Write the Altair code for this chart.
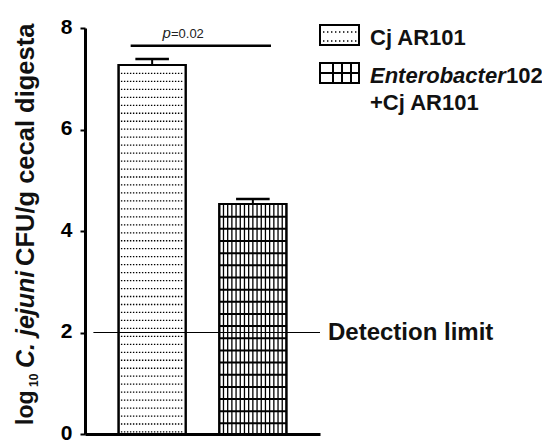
import altair as alt
import pandas as pd

# ---------------- data ----------------
groups = ["Cj AR101", "Enterobacter102 +Cj AR101"]
means = [7.27, 4.53]
sems = [0.12, 0.10]
detection_limit = 2.0
detection_label = "Detection limit"
p_label = ["p", "=0.02"]
p_line_value = 7.65
y_ticks = [0, 2, 4, 6, 8]
legend_labels = [["Cj AR101"], ["Enterobacter", "102", "+Cj AR101"]]
title_parts = ["log", "10", "C. jejuni", "CFU/g cecal digesta"]

# ---------------- layout ----------------
X_DOMAIN = [0, 7]
BAR_LEFT = [1.0, 4.0]
BAR_RIGHT = [3.0, 6.0]
W, H = 235, 406
FONT = "Liberation Sans"

df = pd.DataFrame({
    "group": groups,
    "mean": means,
    "sem": sems,
    "x0": BAR_LEFT,
    "x1": BAR_RIGHT,
})
df["center"] = (df["x0"] + df["x1"]) / 2
df["top"] = df["mean"] + df["sem"]
df["c0"] = df["center"] - 0.5
df["c1"] = df["center"] + 0.5

xscale = alt.Scale(domain=X_DOMAIN, nice=False, zero=False)
yscale = alt.Scale(domain=[0, 8], nice=False)
XAX = alt.Axis(domain=True, domainWidth=3, domainColor="black", ticks=False,
               labels=False, grid=False, title=None)
YAX = alt.Axis(values=y_ticks, domainWidth=3, domainColor="black", tickSize=5,
               tickWidth=2, tickColor="black", labelFont=FONT, labelFontSize=21,
               labelFontWeight="bold", labelColor="black", labelPadding=8,
               labelOffset=-1, grid=False, title=None)


def X(f):
    return alt.X(f, type="quantitative", scale=xscale, axis=XAX)


def Y(f):
    return alt.Y(f, type="quantitative", scale=yscale, axis=YAX)


base = alt.Chart(df)

bars = base.mark_rect(fill="white", stroke="black", strokeWidth=2).encode(
    x=X("x0"), x2="x1", y=Y("mean"), y2=alt.datum(0))

dots = base.transform_filter(alt.datum.group == groups[0]).transform_calculate(
    ys="sequence(0.04, datum.mean - 0.08, 0.157)",
    d0="datum.x0 + 0.07", d1="datum.x1 - 0.07"
).transform_flatten(["ys"]).mark_rule(
    color="black", strokeWidth=1.3, strokeDash=[1.4, 1.6]
).encode(x=X("d0"), x2="d1", y=Y("ys"))

hlines = base.transform_filter(alt.datum.group == groups[1]).transform_calculate(
    ys="sequence(0.21, datum.mean - 0.1, 0.2395)"
).transform_flatten(["ys"]).mark_rule(color="black", strokeWidth=2).encode(
    x=X("x0"), x2="x1", y=Y("ys"))

vlines = base.transform_filter(alt.datum.group == groups[1]).transform_calculate(
    xs="sequence(datum.x0 + 0.125, datum.x1 - 0.05, 0.125)"
).transform_flatten(["xs"]).mark_rule(color="black", strokeWidth=1.3).encode(
    x=X("xs"), y=Y("mean"), y2=alt.datum(0))

outline = base.mark_rect(fillOpacity=0, stroke="black", strokeWidth=2).encode(
    x=X("x0"), x2="x1", y=Y("mean"), y2=alt.datum(0))

err = base.mark_rule(color="black", strokeWidth=2).encode(
    x=X("center"), y=Y("mean"), y2="top")
caps = base.mark_rule(color="black", strokeWidth=2.5).encode(
    x=X("c0"), x2="c1", y=Y("top"))

ann = pd.DataFrame({"x0": [0.25], "x1": [X_DOMAIN[1]], "y": [detection_limit],
                    "label": [detection_label]})
det_line = alt.Chart(ann).mark_rule(color="black", strokeWidth=1.2).encode(
    x=X("x0"), x2="x1", y=Y("y"))
det_text = alt.Chart(ann).mark_text(
    align="left", baseline="middle", dx=8, font=FONT, fontSize=24,
    fontWeight="bold", color="#111").encode(x=X("x1"), y=Y("y"), text="label")

pdf = pd.DataFrame({"x0": [1.36], "x1": [5.54], "y": [p_line_value],
                    "xt": [2.56], "yt": [7.80],
                    "p": [p_label[0]], "rest": [p_label[1]]})
p_line = alt.Chart(pdf).mark_rule(color="black", strokeWidth=2.5).encode(
    x=X("x0"), x2="x1", y=Y("y"))
p_text1 = alt.Chart(pdf).mark_text(
    align="right", baseline="alphabetic", font=FONT, fontSize=15,
    fontStyle="italic", color="#222").encode(x=X("xt"), y=Y("yt"), text="p")
p_text2 = alt.Chart(pdf).mark_text(
    align="left", baseline="alphabetic", font=FONT, fontSize=13,
    color="#222").encode(x=X("xt"), y=Y("yt"), text="rest")

# ---------------- legend and axis title (pixel positions relative to plot) ----------------
one = pd.DataFrame({"a": [0]})


def px_rect(x0, x1, y0, y1, sw=2):
    return alt.Chart(one).mark_rect(fill="white", stroke="black", strokeWidth=sw).encode(
        x=alt.value(x0), x2=alt.value(x1), y=alt.value(y0), y2=alt.value(y1))


def px_rule(x0, x1, y0, y1, sw=1.5, dash=None):
    kw = dict(color="black", strokeWidth=sw)
    if dash:
        kw["strokeDash"] = dash
    return alt.Chart(one).mark_rule(**kw).encode(
        x=alt.value(x0), x2=alt.value(x1), y=alt.value(y0), y2=alt.value(y1))


def px_text(t, x, y, size, style="normal", weight="bold", angle=0):
    return alt.Chart(one).mark_text(
        text=t, align="left", baseline="alphabetic", font=FONT, fontSize=size,
        fontStyle=style, fontWeight=weight, angle=angle, color="#111").encode(
        x=alt.value(x), y=alt.value(y))


legend = [
    px_rect(235, 274, -3, 17),
    px_rule(238, 272, 4, 4, 1.3, [1.4, 2.6]),
    px_rule(238, 272, 13, 13, 1.3, [1.4, 2.6]),
    px_text(legend_labels[0][0], 285, 17, 22),
    px_rect(235, 274, 35, 55),
    px_rule(248, 248, 35, 55, 2),
    px_rule(257, 257, 35, 55, 2),
    px_rule(266, 266, 35, 55, 2),
    px_rule(235, 274, 45, 45, 2),
    px_text(legend_labels[1][0], 285, 55, 22, style="italic"),
    px_text(legend_labels[1][1], 421, 55, 22),
    px_text(legend_labels[1][2], 285, 82, 22),
]

title = [
    px_text(title_parts[0], -52, 397, 23, angle=270),
    px_text(title_parts[1], -47, 359, 12, angle=270),
    px_text(title_parts[2], -51, 340, 25, style="italic", angle=270),
    px_text(title_parts[3], -51, 238, 25.5, angle=270),
]

chart = alt.layer(
    bars, dots, hlines, vlines, outline, err, caps, det_line, det_text,
    p_line, p_text1, p_text2, *legend, *title
).properties(
    width=W, height=H,
    autosize=alt.AutoSizeParams(type="none"),
    padding={"left": 77, "top": 20, "right": 222, "bottom": 12},
).configure_view(stroke=None)

chart.save("out.html", embed_options={"renderer": "svg", "actions": False})
